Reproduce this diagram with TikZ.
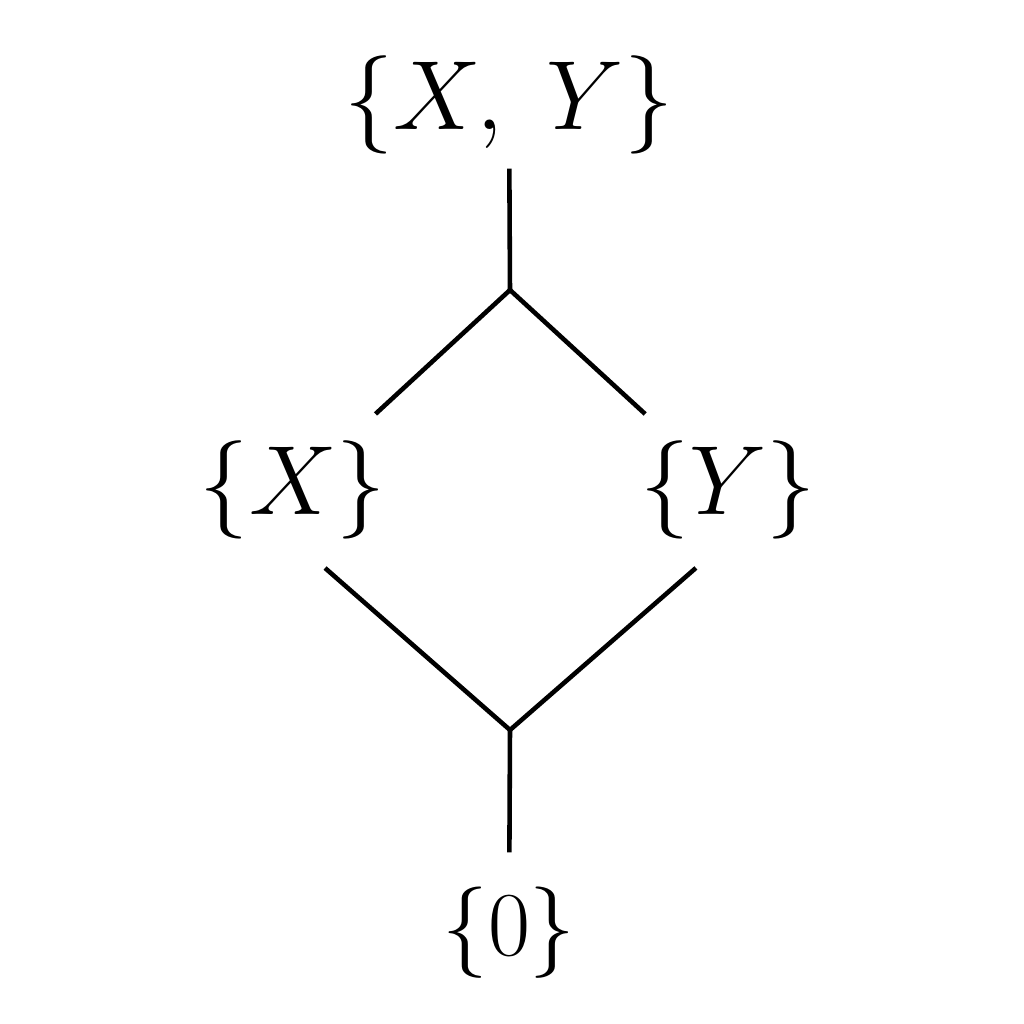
\documentclass[tikz,border=0pt]{standalone}
\usepackage{amsmath}
\usepackage{tikz}

\tikzset{
  lbl/.style={inner sep=0pt, font=\Huge, scale=1.125},
  botlbl/.style={inner sep=0pt, font=\Huge, scale=1.045},
  edge/.style={line width=1.3pt}
}

\begin{document}
\begin{tikzpicture}
\useasboundingbox (0,0) rectangle (10.24,10.24);
\node[lbl] (xy) at (5.09,9.19) {$\{X,\;Y\}$};
\node[lbl] (x) at (2.93,5.34) {$\{X\}$};
\node[lbl] (y) at (7.28,5.34) {$\{Y\}$};
\node[botlbl] (zero) at (5.09,0.91) {$\{0\}$};
\coordinate (up) at (5.10,7.34);
\coordinate (down) at (5.10,2.94);
\draw[edge, shorten <=0.136cm] (xy) -- (up);
\draw[edge, shorten >=0.385cm] (up) -- (x);
\draw[edge, shorten >=0.385cm] (up) -- (y);
\draw[edge, shorten <=0.426cm] (x.south) -- (down);
\draw[edge, shorten <=0.426cm] (y.south) -- (down);
\draw[edge, shorten >=0.341cm] (down) -- (zero);
\end{tikzpicture}
\end{document}
